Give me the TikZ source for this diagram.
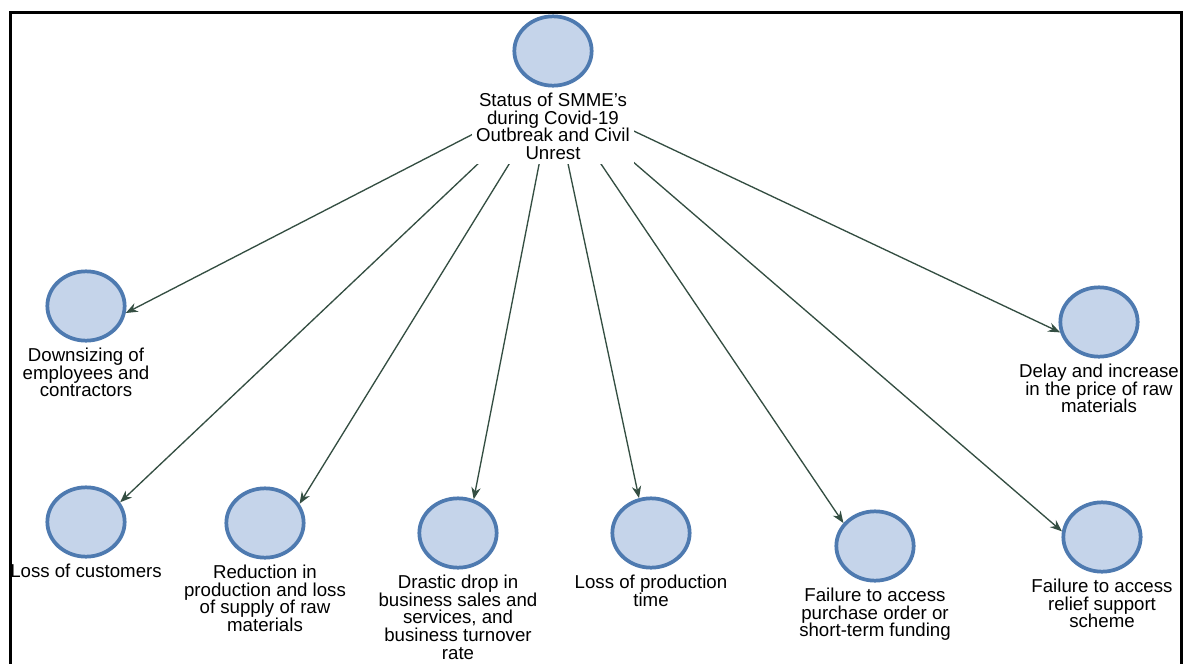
\documentclass[tikz,border=0pt]{standalone}
\usepackage{fontspec}
\setmainfont{Liberation Sans}
\usetikzlibrary{positioning,arrows.meta,shapes.geometric}

\definecolor{itemfill}{RGB}{197,212,234}
\definecolor{itemline}{RGB}{78,122,176}
\definecolor{linkline}{RGB}{52,78,66}

\tikzset{
  item/.style={ellipse, draw=itemline, line width=2.8pt, fill=itemfill,
    minimum width=58pt, minimum height=52pt, inner sep=0pt},
  caption/.style={align=center, font=\fontsize{14pt}{13.2pt}\selectfont,
    inner sep=3pt, fill=white, below=1pt of #1},
  link/.style={-{Stealth[length=9pt,width=7pt]}, draw=linkline, line width=1pt}
}

\begin{document}
\begin{tikzpicture}[x=0.75pt,y=-0.75pt]
\useasboundingbox (0,0) rectangle (1183,664);
% circles
\node [item] (status) at (553,51) {};
\node [item] (down) at (86,306) {};
\node [item] (delay) at (1099,322) {};
\node [item] (cust) at (86,522) {};
\node [item] (redu) at (265,523) {};
\node [item] (drop) at (458,533) {};
\node [item] (time) at (651,533) {};
\node [item] (fund) at (875,546) {};
\node [item] (relief) at (1102,537) {};
% links (start hidden under the caption)
\coordinate (hub) at ([yshift=-4pt]status.south);
\foreach \n/\a in {down/-10,cust/30,redu/29,drop/65,time/109,fund/144,relief/172,delay/195}
  \draw[link] (hub) -- (\n.\a);
% captions
\node [caption=status] (statustext) {Status of SMME's\\during Covid-19\\Outbreak and Civil\\Unrest};
\node [caption=down] (downtext) {Downsizing of\\employees and\\contractors};
\node [caption=delay] (delaytext) {Delay and increase\\in the price of raw\\materials};
\node [caption=cust] (custtext) {Loss of customers};
\node [caption=redu] (redutext) {Reduction in\\production and loss\\of supply of raw\\materials};
\node [caption=drop] (droptext) {Drastic drop in\\business sales and\\services, and\\business turnover\\rate};
\node [caption=time] (timetext) {Loss of production\\time};
\node [caption=fund] (fundtext) {Failure to access\\purchase order or\\short-term funding};
\node [caption=relief] (relieftext) {Failure to access\\relief support\\scheme};
% frame
\draw[line width=2.25pt] (10,664) -- (10,12) -- (1181,12) -- (1181,664);
\end{tikzpicture}
\end{document}
